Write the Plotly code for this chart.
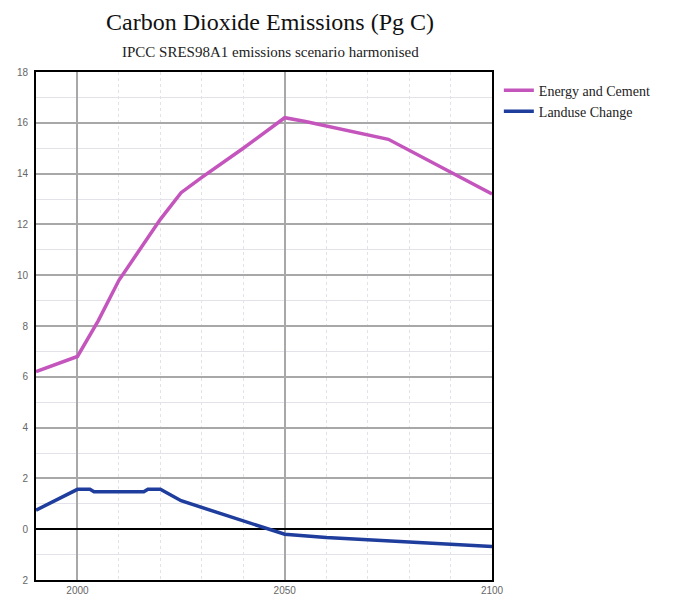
import plotly.graph_objects as go

# Data
energy_years = [1990, 2000, 2005, 2010, 2015, 2020, 2025, 2030, 2040, 2050, 2055, 2075, 2100]
energy_values = [6.2, 6.8, 8.2, 9.8, 11.0, 12.2, 13.25, 13.85, 15.0, 16.2, 16.05, 15.35, 13.2]

landuse_years = [1990, 2000, 2003, 2004, 2016, 2017, 2020, 2025, 2050, 2060, 2070, 2080, 2090, 2100]
landuse_values = [0.75, 1.57, 1.57, 1.47, 1.47, 1.57, 1.57, 1.12, -0.2, -0.33, -0.42, -0.5, -0.6, -0.68]

series_names = ["Energy and Cement", "Landuse Change"]
x_tick_vals = [2000, 2050, 2100]
x_tick_text = ["2000", "2050", "2100"]
y_tick_vals = [-2, 0, 2, 4, 6, 8, 10, 12, 14, 16, 18]
y_tick_text = ["2", "0", "2", "4", "6", "8", "10", "12", "14", "16", "18"]

title_text = "Carbon Dioxide Emissions (Pg C)"
subtitle_text = "IPCC SRES98A1 emissions scenario harmonised"

serif = "Liberation Serif, Times New Roman, serif"
sans = "Liberation Sans, Arial, sans-serif"

fig = go.Figure()
fig.add_trace(go.Scatter(x=energy_years, y=energy_values, mode="lines",
                         name=series_names[0],
                         line=dict(color="#c455bd", width=3.5)))
fig.add_trace(go.Scatter(x=landuse_years, y=landuse_values, mode="lines",
                         name=series_names[1],
                         line=dict(color="#1f3d9c", width=3.5)))

fig.update_layout(
    width=684, height=608,
    margin=dict(l=36, r=192, t=72, b=28),
    paper_bgcolor="white", plot_bgcolor="white",
    title=dict(text=title_text, x=270/684, xanchor="center",
               y=1 - 22/608, yanchor="middle", yref="container",
               font=dict(family=serif, size=24, color="#111")),
    legend=dict(x=1.015, y=0.995, xanchor="left", yanchor="top",
                font=dict(family=serif, size=14, color="#222"),
                bgcolor="rgba(0,0,0,0)", tracegroupgap=0,
                itemwidth=30),
    showlegend=True,
    annotations=[dict(text=subtitle_text, xref="paper", yref="paper",
                      x=(270-36)/456, y=1 + 20/508, xanchor="center",
                      yanchor="middle", showarrow=False,
                      font=dict(family=serif, size=15, color="#222"))],
)

fig.update_xaxes(range=[1990, 2100], tickvals=x_tick_vals, ticktext=x_tick_text,
                 showgrid=True, gridcolor="#a8a8a8", gridwidth=1.5,
                 minor=dict(dtick=10, tick0=1990, showgrid=True,
                            gridcolor="#e2e2e8", gridwidth=1, griddash="dot"),
                 showline=True, linecolor="black", linewidth=2, mirror=True,
                 ticks="", zeroline=False,
                 tickfont=dict(family=sans, size=10, color="#666"))
fig.update_yaxes(range=[-2, 18], tickvals=y_tick_vals, ticktext=y_tick_text,
                 showgrid=True, gridcolor="#a8a8a8", gridwidth=1.5,
                 minor=dict(dtick=1, tick0=0, showgrid=True,
                            gridcolor="#e2e2e8", gridwidth=1),
                 showline=True, linecolor="black", linewidth=2, mirror=True,
                 ticks="", zeroline=True, zerolinecolor="black", zerolinewidth=1.5,
                 ticklabelstandoff=4,
                 tickfont=dict(family=sans, size=10, color="#666"))

fig.write_html("out.html")
